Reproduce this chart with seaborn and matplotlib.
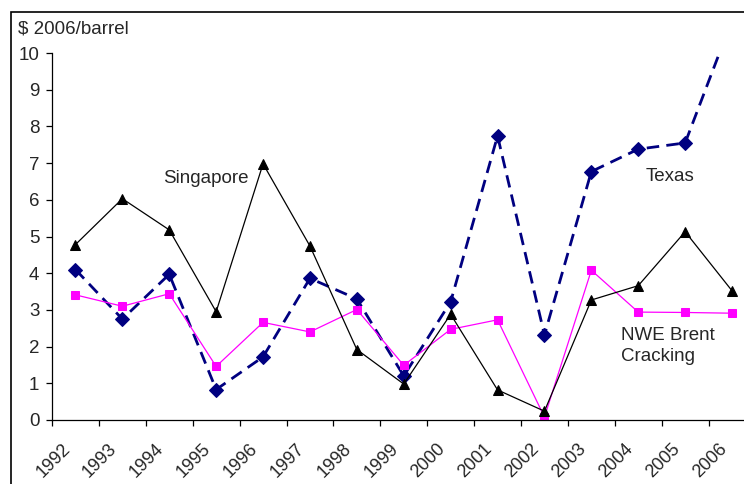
import numpy as np
import pandas as pd
import matplotlib
matplotlib.use("Agg")
import matplotlib.pyplot as plt
import matplotlib.transforms as mtransforms
from matplotlib.patches import Rectangle
import seaborn as sns

# values, $ 2006/barrel
years = [str(y) for y in range(1992, 2007)]
texas = [4.1, 2.75, 3.97, 0.83, 1.72, 3.86, 3.3, 1.2, 3.22, 7.74, 2.32, 6.77, 7.38, 7.55, 10.9]
singapore = [4.78, 6.03, 5.18, 2.95, 6.98, 4.74, 1.92, 0.98, 2.88, 0.82, 0.24, 3.27, 3.66, 5.13, 3.52]
nwe_brent = [3.41, 3.1, 3.44, 1.46, 2.66, 2.4, 3.01, 1.49, 2.47, 2.73, 0.08, 4.08, 2.94, 2.93, 2.91]

df = pd.DataFrame({"year": years, "Texas": texas, "Singapore": singapore,
                   "NWE Brent Cracking": nwe_brent})
df["pos"] = np.arange(len(years))

sns.set_style("white")
plt.rcParams['font.family'] = ['Liberation Sans', 'DejaVu Sans']

fig = plt.figure(figsize=(7.44, 4.84), dpi=100)
ax = fig.add_axes([52 / 744, 64 / 484, 703.5 / 744, 367 / 484])

# outer chart border (runs off the right and bottom edges)
fig.patches.append(Rectangle((11 / 744, -0.1), 1.2, 1 - 12 / 484 + 0.1,
                             transform=fig.transFigure, fill=False,
                             edgecolor='black', linewidth=1.2, clip_on=False))

sns.lineplot(data=df, x="pos", y="Texas", ax=ax, color='#000080', linewidth=2.0,
             marker='D', markersize=7.5, markeredgecolor='#000080', dashes=False)
ax.lines[-1].set_dashes((4.5, 2.6))
sns.lineplot(data=df, x="pos", y="NWE Brent Cracking", ax=ax, color='#FF00FF', linewidth=0.9,
             marker='s', markersize=6, markeredgecolor='#FF00FF')
sns.lineplot(data=df, x="pos", y="Singapore", ax=ax, color='black', linewidth=0.9,
             marker='^', markersize=7, markeredgecolor='black')

ax.set_xlim(-0.5, 14.5)
ax.set_ylim(0, 10)
ax.set_yticks(range(0, 11))
ax.set_xlabel('')
ax.set_ylabel('')

for side in ['top', 'right']:
    ax.spines[side].set_visible(False)
for side in ['left', 'bottom']:
    ax.spines[side].set_color('black')
    ax.spines[side].set_linewidth(0.9)

ax.tick_params(axis='y', direction='out', length=4, width=0.9, color='black',
               labelsize=13.5, pad=5, left=True)
ax.set_xticks(df["pos"])
ax.set_xticklabels(years, rotation=45, ha='right', rotation_mode='anchor', va='center')
ax.set_xticks(np.arange(-0.5, 15, 1), minor=True)
ax.tick_params(axis='x', which='major', length=0, labelsize=13, pad=19)
ax.tick_params(axis='x', which='minor', direction='out', length=4, width=0.9,
               color='black', bottom=True)
shift = mtransforms.ScaledTranslation(-8 / 100, 0, fig.dpi_scale_trans)
for lab in ax.get_xticklabels():
    lab.set_transform(lab.get_transform() + shift)

ax.text(1.87, 6.59, 'Singapore', fontsize=13.5, ha='left', va='center')
ax.text(12.15, 6.63, 'Texas', fontsize=13.5, ha='left', va='center')
ax.text(11.64, 2.02, 'NWE Brent\nCracking', fontsize=13.5, ha='left', va='center',
        linespacing=1.3)
fig.text(18 / 744, 1 - 29 / 484, '$ 2006/barrel', fontsize=13.5, ha='left', va='center')

fig.savefig('out.png', dpi=100)
